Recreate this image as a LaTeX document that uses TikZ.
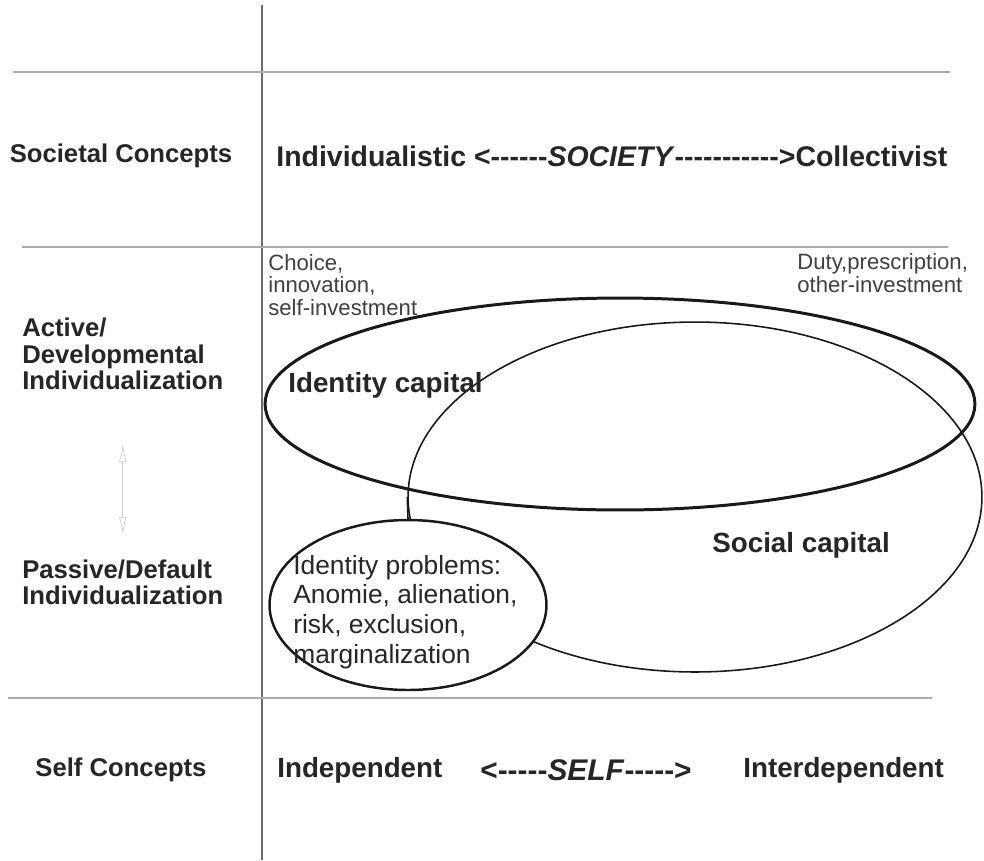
\documentclass[tikz,border=0pt]{standalone}
\usepackage{fontspec}
\setmainfont{Liberation Sans}[Ligatures=TeXOff]
\usetikzlibrary{shapes.geometric,arrows.meta,positioning}

\begin{document}
\begin{tikzpicture}[
    x=0.02cm, y=-0.02cm,
    rule/.style={draw=gray!65, line width=1.1pt},
    axis/.style={draw=gray!85!black, line width=0.7pt},
    heading/.style={
        font=\bfseries\fontsize{14.6}{15}\selectfont,
        text=black!85,
        inner sep=0pt,
        align=left
    },
    tag/.style={font=\bfseries\fontsize{15.8}{18}\selectfont, text=black!85, inner sep=0pt},
    note/.style={font=\fontsize{12.6}{13}\selectfont, text=black!75, inner sep=0pt, align=left},
    blob/.style={ellipse, draw=black!90, inner sep=0pt}
]
    % Page frame
    \fill[white] (0,0) rectangle (984,860);
    \useasboundingbox (0,0) rectangle (984,860);

    % Grid lines
    \draw[axis] (262,5) -- (262,860);
    \draw[rule] (13,72) -- (950,72);
    \draw[rule] (22,247) -- (948,247);
    \draw[rule] (8,698) -- (932,698);

    % Row labels
    \node[heading] (societal) at (121,156) {Societal Concepts};
    \node[heading, anchor=west] (active) at (22,354) {Active/\\Developmental\\Individualization};
    \node[heading, anchor=west] (passive) at (22,582) {Passive/Default\\Individualization};
    \node[heading] (selfc) at (121,770) {Self Concepts};

    % Society scale
    \node[tag, font=\bfseries\fontsize{16.2}{18}\selectfont, anchor=west] (society) at (276,156)
        {Individualistic <------\textit{SOCIETY}----------->Collectivist};

    % Self scale
    \node[tag, anchor=west] (indep) at (277,770) {Independent};
    \node[tag, font=\bfseries\fontsize{17}{18}\selectfont, anchor=west] (selfaxis) at (480,770) {<-----\textit{SELF}----->};
    \node[tag, anchor=west] (interdep) at (743,770) {Interdependent};

    % Poles of the capital sets
    \node[note, anchor=west] (choice) at (268,285) {Choice,\\innovation,\\self-investment};
    \node[note, anchor=west] (duty) at (797,273) {Duty,prescription,\\other-investment};

    % Ellipses
    \node[blob, line width=0.9pt, minimum width=11.48cm, minimum height=7cm] (social) at (695,497) {};
    \node[blob, line width=1.7pt, minimum width=14.2cm, minimum height=4.24cm] (idcap) at (620,404) {};
    \node[blob, fill=white, line width=1.4pt, minimum width=5.54cm, minimum height=3.4cm] (probs) at (408,605) {};

    \node[tag, anchor=west] (idcaptext) at (288,385) {Identity capital};
    \node[tag, anchor=west] (socialtext) at (712,545) {Social capital};
    \node[font=\fontsize{15}{17}\selectfont, text=black!85, inner sep=0pt, align=left, anchor=west]
        (probstext) at (293,612) {Identity problems:\\Anomie, alienation,\\risk, exclusion,\\marginalization};

    % Links
    \draw[line width=0.9pt, black!90] (social.west) -- (probs.north);
    \draw[{Latex[open,length=0.35cm,width=0.15cm]}-{Latex[open,length=0.35cm,width=0.15cm]}, gray!40, line width=0.4pt]
        ([yshift=-31pt]active.south) -- ([yshift=14pt]passive.north);
\end{tikzpicture}
\end{document}
